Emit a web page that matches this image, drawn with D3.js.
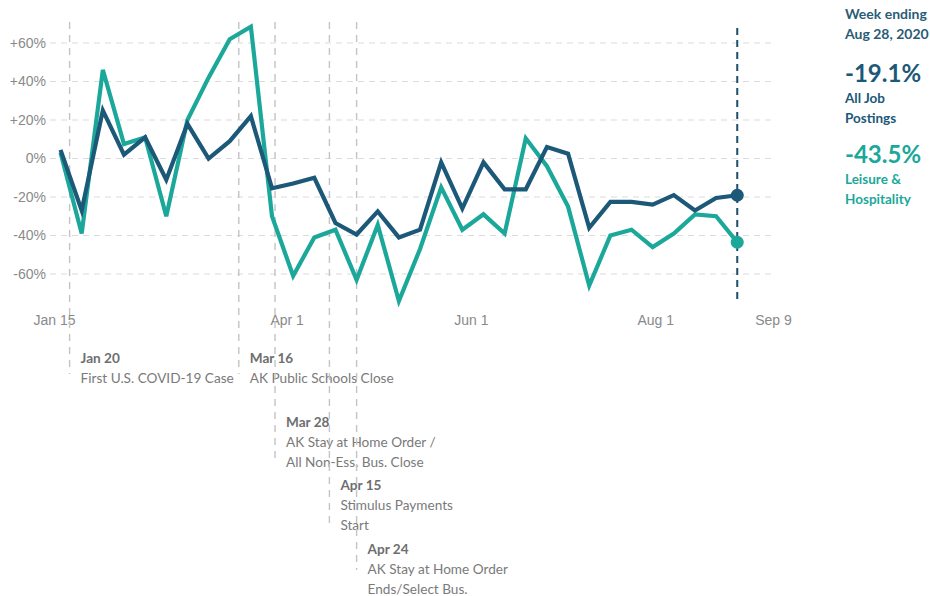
<!DOCTYPE html>
<html>
<head>
<meta charset="utf-8">
<script src="https://cdn.jsdelivr.net/npm/d3@7"></script>
<style>
  html, body { margin: 0; padding: 0; background: #fff; }
  svg { display: block; }
  .axis-label { font-family: "Liberation Sans", Arial, sans-serif; font-size: 14px; fill: #8a8a8a; }
  .ann-title { font-family: Lato, "Noto Sans", sans-serif; font-size: 13.6px; font-weight: 700; fill: #6e6e6e; }
  .ann-body { font-family: Lato, "Noto Sans", sans-serif; font-size: 13.6px; fill: #7a7a7a; }
  .leg { font-family: Lato, "Noto Sans", sans-serif; font-weight: 700; }
</style>
</head>
<body>
<svg id="chart" width="930" height="596"></svg>
<script>
// Weekly change in job postings vs. baseline, weeks ending Friday
const weeks = [
  "2020-01-17","2020-01-24","2020-01-31","2020-02-07","2020-02-14","2020-02-21","2020-02-28",
  "2020-03-06","2020-03-13","2020-03-20","2020-03-27","2020-04-03","2020-04-10","2020-04-17",
  "2020-04-24","2020-05-01","2020-05-08","2020-05-15","2020-05-22","2020-05-29","2020-06-05",
  "2020-06-12","2020-06-19","2020-06-26","2020-07-03","2020-07-10","2020-07-17","2020-07-24",
  "2020-07-31","2020-08-07","2020-08-14","2020-08-21","2020-08-28"
];
const allJobPostings = [
  4.5, -27, 25, 2, 11, -11, 18,
  0, 9, 22, -15.5, -13, -10, -33.5,
  -39.5, -27.5, -41, -37, -2, -26, -2,
  -16, -16, 6, 2.5, -36, -22.5, -22.5,
  -24, -19, -27, -20.5, -19.1
];
const leisureHospitality = [
  3, -39, 46, 7.5, 11, -30, 20,
  42, 62, 68.5, -30, -61, -41, -37,
  -63, -34.5, -74, -47, -15, -37, -29,
  -39, 10.5, -4, -25, -66, -40, -37,
  -46, -39, -29, -30, -43.5
];

const yTicks = [60, 40, 20, 0, -20, -40, -60];
const xTickDates = ["2020-01-15", "2020-04-01", "2020-06-01", "2020-08-01", "2020-09-09"];
const xTickLabels = ["Jan 15", "Apr 1", "Jun 1", "Aug 1", "Sep 9"];

// Event markers: date, bold title, body lines
const eventDates = ["2020-01-20", "2020-03-16", "2020-03-28", "2020-04-15", "2020-04-24"];
const eventTitles = ["Jan 20", "Mar 16", "Mar 28", "Apr 15", "Apr 24"];
const eventBodies = [
  ["First U.S. COVID-19 Case"],
  ["AK Public Schools Close"],
  ["AK Stay at Home Order /", "All Non-Ess. Bus. Close"],
  ["Stimulus Payments", "Start"],
  ["AK Stay at Home Order", "Ends/Select Bus."]
];

const latestLabel = ["Week ending", "Aug 28, 2020"];
const seriesNames = [["All Job", "Postings"], ["Leisure &", "Hospitality"]];
const seriesColors = ["#1c5877", "#1ba89a"];

const parse = d3.utcParse("%Y-%m-%d");
const pct = d3.formatLocale({ decimal: ".", thousands: ",", grouping: [3], currency: ["", ""], minus: "-" }).format(".1f");
const svg = d3.select("#chart");

const x = d3.scaleUtc()
  .domain([parse("2020-01-15"), parse("2020-09-09")])
  .range([54.5, 773.5]);
const y = d3.scaleLinear()
  .domain([-60, 60])
  .range([274, 43]);

// Horizontal gridlines
svg.append("g").selectAll("line").data(yTicks).join("line")
  .attr("x1", 50).attr("x2", 774)
  .attr("y1", d => y(d)).attr("y2", d => y(d))
  .attr("stroke", "#dcdcdc").attr("stroke-width", 1.2)
  .attr("stroke-dasharray", "6,5");

// Y axis labels
svg.append("g").selectAll("text").data(yTicks).join("text")
  .attr("class", "axis-label")
  .attr("x", 46).attr("y", d => y(d))
  .attr("dy", "0.35em").attr("text-anchor", "end")
  .text(d => d > 0 ? "+" + d + "%" : d + "%");

// X axis labels
svg.append("g").selectAll("text").data(xTickDates).join("text")
  .attr("class", "axis-label")
  .attr("x", d => x(parse(d))).attr("y", 325)
  .attr("text-anchor", "middle")
  .text((d, i) => xTickLabels[i]);

// Event guides and annotations
const rowTop = [363, 363, 427, 490, 554];
const lineEnd = [374, 374, 458, 523, 570];
const ev = svg.append("g");
eventDates.forEach((d, i) => {
  const ex = x(parse(d));
  ev.append("line")
    .attr("x1", ex).attr("x2", ex)
    .attr("y1", 22).attr("y2", lineEnd[i])
    .attr("stroke", "#c4c4c4").attr("stroke-width", 1.4)
    .attr("stroke-dasharray", "7,6");
  const tx = ex + 11;
  ev.append("text").attr("class", "ann-title")
    .attr("x", tx).attr("y", rowTop[i]).text(eventTitles[i]);
  eventBodies[i].forEach((t, j) => {
    ev.append("text").attr("class", "ann-body")
      .attr("x", tx).attr("y", rowTop[i] + 20 + j * 19.5).text(t);
  });
});

// Latest-week marker
const lastDate = parse(weeks[weeks.length - 1]);
svg.append("line")
  .attr("x1", x(lastDate)).attr("x2", x(lastDate))
  .attr("y1", 28).attr("y2", 303)
  .attr("stroke", "#1c4f6b").attr("stroke-width", 2)
  .attr("stroke-dasharray", "7,5");

// Series lines
const series = [allJobPostings, leisureHospitality];
const line = d3.line()
  .x((d, i) => x(parse(weeks[i])))
  .y(d => y(d));
[1, 0].forEach(k => {
  svg.append("path")
    .datum(series[k])
    .attr("fill", "none")
    .attr("stroke", seriesColors[k])
    .attr("stroke-width", 4.2)
    .attr("stroke-linejoin", "miter")
    .attr("d", line);
});
[1, 0].forEach(k => {
  const vals = series[k];
  svg.append("circle")
    .attr("cx", x(lastDate)).attr("cy", y(vals[vals.length - 1]))
    .attr("r", 6.5).attr("fill", seriesColors[k]);
});

// Latest values panel
const lg = svg.append("g");
lg.append("text").attr("class", "leg").attr("x", 845).attr("y", 19)
  .attr("font-size", 14).attr("fill", "#2a5c76").text(latestLabel[0]);
lg.append("text").attr("class", "leg").attr("x", 845).attr("y", 39)
  .attr("font-size", 14).attr("fill", "#2a5c76").text(latestLabel[1]);
const valTop = [82, 163];
series.forEach((vals, k) => {
  const v = vals[vals.length - 1];
  lg.append("text").attr("class", "leg").attr("x", 845).attr("y", valTop[k])
    .attr("font-size", 24).attr("font-weight", 800).attr("fill", seriesColors[k])
    .text(pct(v) + "%");
  seriesNames[k].forEach((t, j) => {
    lg.append("text").attr("class", "leg").attr("x", 845).attr("y", valTop[k] + 21 + j * 19.5)
      .attr("font-size", 13.5).attr("fill", seriesColors[k]).text(t);
  });
});
</script>
</body>
</html>
